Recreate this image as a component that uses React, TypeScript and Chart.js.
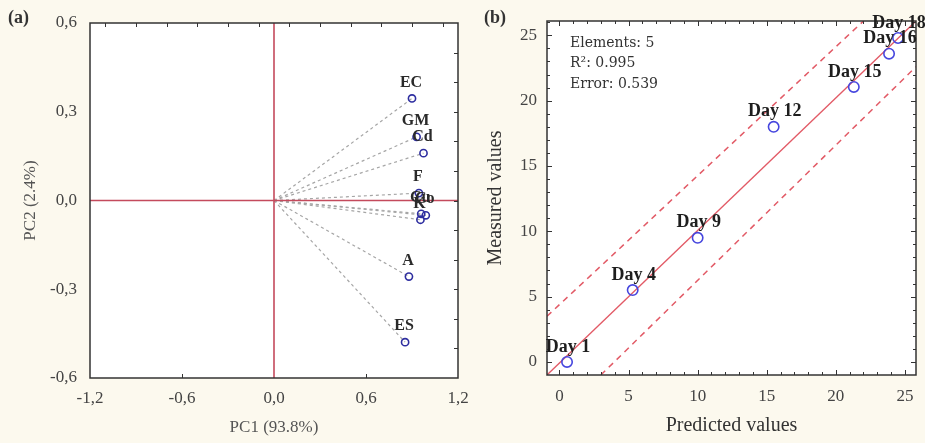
import React, { useEffect, useRef } from 'react';
import { Chart, registerables } from 'chart.js';
Chart.register(...registerables);

// ---------- Panel (a): PCA loadings ----------
const variableNames = ['EC', 'GM', 'Cd', 'F', 'Cu', 'Co', 'K', 'A', 'ES'];
const pc1Loadings = [0.9, 0.93, 0.975, 0.945, 0.96, 0.99, 0.955, 0.88, 0.855];
const pc2Loadings = [0.345, 0.215, 0.16, 0.025, -0.045, -0.05, -0.065, -0.257, -0.479];
const pcaXTicks = [-1.2, -0.6, 0, 0.6, 1.2];
const pcaYTicks = [-0.6, -0.3, 0, 0.3, 0.6];

// ---------- Panel (b): predicted vs measured ----------
const dayLabels = ['Day 1', 'Day 4', 'Day 9', 'Day 12', 'Day 15', 'Day 16', 'Day 18'];
const predictedValues = [0.55, 5.3, 10.0, 15.5, 21.3, 23.85, 24.5];
const measuredValues = [0.0, 5.5, 9.5, 18.0, 21.05, 23.6, 24.8];
const fitLineX = [-0.9, 25.8];
const fitLineY = [-1.0, 26.1];
const upperBandX = [-0.9, 22.0];
const upperBandY = [3.5, 26.1];
const lowerBandX = [3.0, 25.8];
const lowerBandY = [-1.0, 22.6];
const predictedTicks = [0, 5, 10, 15, 20, 25];
const measuredTicks = [0, 5, 10, 15, 20, 25];
const infoLines = ['Elements: 5', 'R\u00B2: 0.995', 'Error: 0.539'];

const serif = '"Liberation Serif", "Times New Roman", serif';
const slab = '"DejaVu Serif", serif';
const fmtComma = (v: number) => (Math.abs(v) < 1e-9 ? 0 : v).toFixed(1).replace('.', ',');

function fixedTicks(values: number[]) {
  return (scale: any) => {
    scale.ticks = values.map((v) => ({ value: v }));
  };
}

function drawBoxAndTicks(chart: any, spec: { top: number[]; bottom: number[]; left: number[]; right: number[]; major?: (v: number) => boolean; len: number; majorLen: number; color: string; width: number }) {
  const { ctx, chartArea: a, scales } = chart;
  const xs = scales.x;
  const ys = scales.y;
  ctx.save();
  ctx.strokeStyle = spec.color;
  ctx.lineWidth = spec.width;
  ctx.strokeRect(a.left, a.top, a.right - a.left, a.bottom - a.top);
  ctx.lineWidth = 1;
  ctx.beginPath();
  const L = (v: number) => (spec.major && spec.major(v) ? spec.majorLen : spec.len);
  spec.top.forEach((v) => {
    const x = Math.round(xs.getPixelForValue(v)) + 0.5;
    ctx.moveTo(x, a.top);
    ctx.lineTo(x, a.top + L(v));
  });
  spec.bottom.forEach((v) => {
    const x = Math.round(xs.getPixelForValue(v)) + 0.5;
    ctx.moveTo(x, a.bottom);
    ctx.lineTo(x, a.bottom - L(v));
  });
  spec.left.forEach((v) => {
    const y = Math.round(ys.getPixelForValue(v)) + 0.5;
    ctx.moveTo(a.left, y);
    ctx.lineTo(a.left + L(v), y);
  });
  spec.right.forEach((v) => {
    const y = Math.round(ys.getPixelForValue(v)) + 0.5;
    ctx.moveTo(a.right, y);
    ctx.lineTo(a.right - L(v), y);
  });
  ctx.stroke();
  ctx.restore();
}

function range(a: number, b: number, step: number) {
  const out: number[] = [];
  for (let v = a; v <= b + 1e-9; v += step) out.push(Math.round(v * 1000) / 1000);
  return out;
}

function PcaChart() {
  const ref = useRef<HTMLCanvasElement>(null);
  useEffect(() => {
    if (!ref.current) return;
    const pts = pc1Loadings.map((x, i) => ({ x, y: pc2Loadings[i] }));
    const rays = pts.map((p) => ({
      data: [{ x: 0, y: 0 }, p],
      showLine: true,
      borderColor: '#a6a6a6',
      borderWidth: 1.2,
      borderDash: [3, 3],
      pointRadius: 0,
      order: 3,
    }));
    const red = '#c44a5c';
    const chart = new Chart(ref.current, {
      type: 'scatter',
      data: {
        datasets: [
          {
            data: pts,
            pointRadius: 3.6,
            pointBorderWidth: 1.6,
            pointBorderColor: '#2e2ea0',
            pointBackgroundColor: 'rgba(0,0,0,0)',
            order: 0,
          } as any,
          { data: [{ x: -1.2, y: 0 }, { x: 1.2, y: 0 }], showLine: true, borderColor: red, borderWidth: 1.6, pointRadius: 0, order: 1 },
          { data: [{ x: 0, y: -0.6 }, { x: 0, y: 0.6 }], showLine: true, borderColor: red, borderWidth: 1.6, pointRadius: 0, order: 1 },
          ...rays,
        ],
      },
      options: {
        responsive: false,
        animation: false,
        events: [],
        layout: { padding: { left: 0, top: 23, right: 12, bottom: 0 } },
        plugins: { legend: { display: false }, tooltip: { enabled: false } },
        scales: {
          x: {
            type: 'linear',
            min: -1.2,
            max: 1.2,
            afterBuildTicks: fixedTicks(pcaXTicks),
            afterFit: (s: any) => { s.height = 65; s.paddingLeft = 0; s.paddingRight = 0; },
            grid: { display: false, drawTicks: false },
            border: { display: false },
            ticks: { padding: 10, color: '#444', font: { family: serif, size: 17 }, callback: (v: any) => fmtComma(Number(v)), maxRotation: 0 },
            title: { display: true, text: 'PC1 (93.8%)', color: '#555', font: { family: serif, size: 17 }, padding: { top: 0, bottom: 5 } },
          },
          y: {
            type: 'linear',
            min: -0.6,
            max: 0.6,
            afterBuildTicks: fixedTicks(pcaYTicks),
            afterFit: (s: any) => { s.width = 90; s.paddingTop = 0; s.paddingBottom = 0; },
            grid: { display: false, drawTicks: false },
            border: { display: false },
            ticks: { padding: 13, color: '#444', font: { family: serif, size: 17 }, callback: (v: any) => fmtComma(Number(v)) },
            title: { display: true, text: 'PC2 (2.4%)', color: '#555', font: { family: serif, size: 17 }, padding: { top: 20, bottom: 0 } },
          },
        },
      },
      plugins: [
        {
          id: 'decorA',
          beforeDraw(c: any) {
            const { ctx, chartArea: a } = c;
            ctx.save();
            ctx.fillStyle = '#ffffff';
            ctx.fillRect(a.left, a.top, a.right - a.left, a.bottom - a.top);
            ctx.restore();
          },
          afterDatasetsDraw(c: any) {
            drawBoxAndTicks(c, {
              top: range(-1.1, 1.1, 0.2),
              bottom: [-0.6, 0.6],
              left: [],
              right: range(-0.5, 0.5, 0.1),
              len: 4,
              majorLen: 4,
              color: '#333',
              width: 1.5,
            });
            const { ctx } = c;
            const meta = c.getDatasetMeta(0);
            ctx.save();
            ctx.fillStyle = '#2a2a2a';
            ctx.font = `bold 16px ${serif}`;
            ctx.textAlign = 'center';
            ctx.textBaseline = 'middle';
            meta.data.forEach((el: any, i: number) => {
              ctx.fillText(variableNames[i], el.x - 1, el.y - 16);
            });
            ctx.fillStyle = '#333';
            ctx.font = `bold 18px ${serif}`;
            ctx.textAlign = 'left';
            ctx.fillText('(a)', 8, 18);
            ctx.restore();
          },
        },
      ],
    } as any);
    return () => chart.destroy();
  }, []);
  return <canvas ref={ref} width={470} height={443} style={{ position: 'absolute', left: 0, top: 0, width: 470, height: 443 }} />;
}

function FitChart() {
  const ref = useRef<HTMLCanvasElement>(null);
  useEffect(() => {
    if (!ref.current) return;
    const pts = predictedValues.map((x, i) => ({ x, y: measuredValues[i] }));
    const pair = (xs: number[], ys: number[]) => xs.map((x, i) => ({ x, y: ys[i] }));
    const lineRed = '#e25a66';
    const chart = new Chart(ref.current, {
      type: 'scatter',
      data: {
        datasets: [
          {
            data: pts,
            pointRadius: 5.2,
            pointBorderWidth: 1.6,
            pointBorderColor: '#4646de',
            pointBackgroundColor: 'rgba(0,0,0,0)',
            order: 0,
          } as any,
          { data: pair(fitLineX, fitLineY), showLine: true, borderColor: lineRed, borderWidth: 1.3, pointRadius: 0, order: 1 },
          { data: pair(upperBandX, upperBandY), showLine: true, borderColor: lineRed, borderWidth: 1.5, borderDash: [6, 5], pointRadius: 0, order: 2 },
          { data: pair(lowerBandX, lowerBandY), showLine: true, borderColor: lineRed, borderWidth: 1.5, borderDash: [6, 5], pointRadius: 0, order: 2 },
        ],
      },
      options: {
        responsive: false,
        animation: false,
        events: [],
        layout: { padding: { left: 0, top: 21, right: 9, bottom: 0 } },
        plugins: { legend: { display: false }, tooltip: { enabled: false } },
        scales: {
          x: {
            type: 'linear',
            min: -0.9,
            max: 25.8,
            afterBuildTicks: fixedTicks(predictedTicks),
            afterFit: (s: any) => { s.height = 68; s.paddingLeft = 0; s.paddingRight = 0; },
            grid: { display: false, drawTicks: false },
            border: { display: false },
            ticks: { padding: 11, color: '#444', font: { family: serif, size: 17 }, maxRotation: 0 },
            title: { display: true, text: 'Predicted values', color: '#333', font: { family: serif, size: 20 }, padding: { top: 0, bottom: 5 } },
          },
          y: {
            type: 'linear',
            min: -1.0,
            max: 26.1,
            afterBuildTicks: fixedTicks(measuredTicks),
            afterFit: (s: any) => { s.width = 77; s.paddingTop = 0; s.paddingBottom = 0; },
            grid: { display: false, drawTicks: false },
            border: { display: false },
            ticks: { padding: 10, color: '#444', font: { family: serif, size: 17 } },
            title: { display: true, text: 'Measured values', color: '#333', font: { family: serif, size: 20 }, padding: { top: 14, bottom: 0 } },
          },
        },
      },
      plugins: [
        {
          id: 'decorB',
          beforeDraw(c: any) {
            const { ctx, chartArea: a } = c;
            ctx.save();
            ctx.fillStyle = '#ffffff';
            ctx.fillRect(a.left, a.top, a.right - a.left, a.bottom - a.top);
            ctx.restore();
          },
          afterDatasetsDraw(c: any) {
            drawBoxAndTicks(c, {
              top: range(0, 25, 1),
              bottom: range(0, 25, 1),
              left: range(0, 26, 1),
              right: range(0, 26, 1),
              major: (v) => Math.abs(v % 5) < 1e-9,
              len: 3,
              majorLen: 5,
              color: '#333',
              width: 1.5,
            });
            const { ctx } = c;
            const meta = c.getDatasetMeta(0);
            ctx.save();
            ctx.fillStyle = '#1e1e1e';
            ctx.font = `bold 18px ${serif}`;
            ctx.textAlign = 'center';
            ctx.textBaseline = 'middle';
            meta.data.forEach((el: any, i: number) => {
              ctx.fillText(dayLabels[i], el.x + 1, el.y - 15);
            });
            ctx.fillStyle = '#333';
            ctx.font = `14px ${slab}`;
            ctx.textAlign = 'left';
            infoLines.forEach((t, i) => ctx.fillText(t, 100, 43 + i * 20.5));
            ctx.font = `bold 18px ${serif}`;
            ctx.fillText('(b)', 14, 18);
            ctx.restore();
          },
        },
      ],
    } as any);
    return () => chart.destroy();
  }, []);
  return <canvas ref={ref} width={455} height={443} style={{ position: 'absolute', left: 470, top: 0, width: 455, height: 443 }} />;
}

export default function App() {
  return (
    <div style={{ position: 'fixed', left: 0, top: 0, width: 925, height: 443, background: '#fcf9ee', overflow: 'hidden' }}>
      <PcaChart />
      <FitChart />
    </div>
  );
}
